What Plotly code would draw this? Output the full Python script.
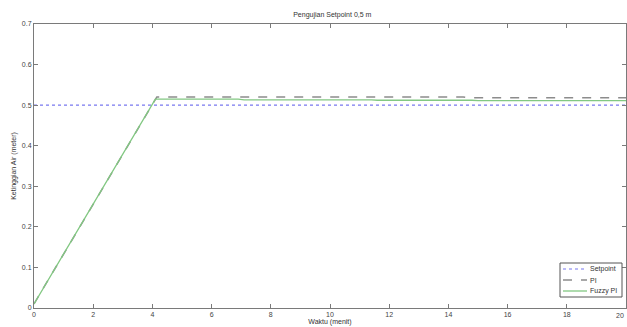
import plotly.graph_objects as go

# Data
sp_time = [0, 20]
sp_level = [0.5, 0.5]

pi_time = [0, 4.15, 14.5, 14.7, 20]
pi_level = [0.01, 0.52, 0.52, 0.518, 0.518]

fz_time = [0, 4.1, 6.9, 7.1, 11.4, 11.6, 14.8, 15.0, 20]
fz_level = [0.01, 0.515, 0.515, 0.513, 0.513, 0.512, 0.512, 0.511, 0.511]

x_ticks = [0, 2, 4, 6, 8, 10, 12, 14, 16, 18, 20]
y_ticks = [0, 0.1, 0.2, 0.3, 0.4, 0.5, 0.6, 0.7]
y_tick_labels = ["0", "0.1", "0.2", "0.3", "0.4", "0.5", "0.6", "0.7"]

series_names = ["Setpoint", "PI", "Fuzzy PI"]
series_colors = ["#7878f0", "#8c8c8c", "#82c882"]
series_dash = ["dot", "dash", "solid"]
series_width = [1.2, 1.5, 1.3]

FONT = "Liberation Sans"

fig = go.Figure()
for name, xs, ys, c, d, w in zip(series_names, [sp_time, pi_time, fz_time],
                                 [sp_level, pi_level, fz_level],
                                 series_colors, series_dash, series_width):
    fig.add_trace(go.Scatter(x=xs, y=ys, mode="lines", name=name, showlegend=False,
                             line=dict(color=c, width=w, dash=d)))

axis_common = dict(showgrid=False, zeroline=False, showline=True, linecolor="#7a7a7a",
                   linewidth=1, ticks="inside", ticklen=4, tickcolor="#7a7a7a",
                   mirror="allticks", automargin=False,
                   tickfont=dict(family=FONT, size=7, color="#444"))

# legend box drawn in paper coordinates (plot area 34..626 px wide, 24..308 px tall)
def px_x(p):
    return (p - 34) / 592.0

def px_y(p):
    return (308 - p) / 284.0

shapes = [dict(type="rect", xref="paper", yref="paper",
               x0=px_x(560), x1=px_x(622), y0=px_y(297), y1=px_y(263),
               line=dict(color="#555", width=1), fillcolor="white", layer="above")]
annotations = []
for i, (name, c, d, w) in enumerate(zip(series_names, series_colors, series_dash, series_width)):
    yy = px_y(269 + 11 * i)
    shapes.append(dict(type="line", xref="paper", yref="paper",
                       x0=px_x(563), x1=px_x(587), y0=yy, y1=yy,
                       line=dict(color=c, width=w, dash=d), layer="above"))
    annotations.append(dict(text=name, xref="paper", yref="paper", x=px_x(588), y=yy,
                            xanchor="left", yanchor="middle", showarrow=False,
                            font=dict(family=FONT, size=7, color="#333")))

# last x tick label at the right edge
annotations.append(dict(text=str(x_ticks[-1]), xref="x", yref="paper", x=x_ticks[-1], y=px_y(310),
                        xanchor="right", yanchor="top", showarrow=False,
                        font=dict(family=FONT, size=7, color="#444")))

fig.update_layout(
    width=627, height=327,
    margin=dict(l=34, r=1, t=24, b=19),
    paper_bgcolor="white", plot_bgcolor="white",
    title=dict(text="Pengujian Setpoint 0,5 m", x=0.53, xanchor="center", y=0.955, yanchor="middle",
               font=dict(family=FONT, size=7, color="#333")),
    xaxis=dict(range=[0, 20], tickvals=x_ticks, ticktext=[str(v) for v in x_ticks],
               title=dict(text="Waktu (menit)", standoff=0,
                          font=dict(family=FONT, size=7, color="#333")),
               **axis_common),
    yaxis=dict(range=[0, 0.7], tickvals=y_ticks, ticktext=y_tick_labels,
               title=dict(text="Ketinggian Air (meter)", standoff=4,
                          font=dict(family=FONT, size=7, color="#333")),
               **axis_common),
    shapes=shapes,
    annotations=annotations,
    showlegend=False,
)

fig.write_html("out.html", config={"displayModeBar": False},
               post_script="document.body.style.margin='0';document.body.style.overflow='hidden';")
